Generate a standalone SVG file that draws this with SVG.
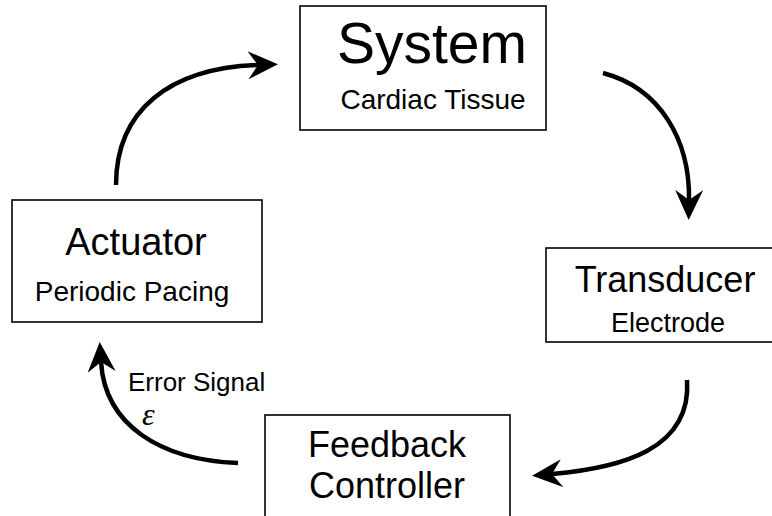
<svg xmlns="http://www.w3.org/2000/svg" width="772" height="516" viewBox="0 0 772 516">
  <style>
    .box { fill: #fff; stroke: #000; stroke-width: 1.6; }
    .t { font-family: "Liberation Sans", Arial, sans-serif; fill: #000; text-anchor: middle; }
    .wire { fill: none; stroke: #000; stroke-width: 4.5; stroke-linecap: butt; }
  </style>
  <defs>
    <!-- barbed arrowhead; the path end sits at the notch -->
    <marker id="head" viewBox="0 0 30 28" refX="10" refY="14" markerWidth="30" markerHeight="28" markerUnits="userSpaceOnUse" orient="auto">
      <path d="M0,0 L30,14 L0,28 L10,14 Z" fill="#000"/>
    </marker>
  </defs>
  <rect width="772" height="516" fill="#fff"/>

  <g id="system">
    <rect class="box" x="300" y="6" width="246" height="124"/>
    <text class="t" x="432" y="63" font-size="57">System</text>
    <text class="t" x="433" y="109" font-size="28">Cardiac Tissue</text>
  </g>

  <g id="transducer">
    <rect class="box" x="546" y="248" width="240" height="94"/>
    <text class="t" x="665" y="292" font-size="36">Transducer</text>
    <text class="t" x="668" y="332" font-size="27">Electrode</text>
  </g>

  <g id="feedback-controller">
    <rect class="box" x="265" y="415" width="245" height="120"/>
    <text class="t" x="387" y="457" font-size="36">Feedback</text>
    <text class="t" x="387" y="498" font-size="36">Controller</text>
  </g>

  <g id="actuator">
    <rect class="box" x="12" y="200" width="250" height="122"/>
    <text class="t" x="136" y="255" font-size="38">Actuator</text>
    <text class="t" x="132" y="301" font-size="28">Periodic Pacing</text>
  </g>

  <g id="connectors">
    <path class="wire" d="M116,185 C116,110 170,68 258,65" marker-end="url(#head)"/>
    <path class="wire" d="M603,73 C660,88 690,140 689,200" marker-end="url(#head)"/>
    <path class="wire" d="M687,380 C692,450 620,468 552,474" marker-end="url(#head)"/>
    <path class="wire" d="M238,463 C160,460 105,425 101,362" marker-end="url(#head)"/>
    <text x="128" y="391" font-family="Liberation Sans, Arial, sans-serif" font-size="26">Error Signal</text>
    <text x="142" y="425" font-family="Liberation Serif, serif" font-style="italic" font-size="32">ε</text>
  </g>
</svg>
